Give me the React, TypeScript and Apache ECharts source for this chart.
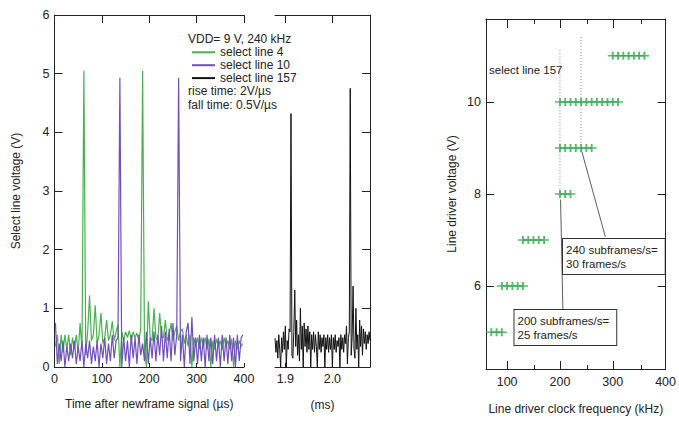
import React, { useEffect, useRef } from "react";
import * as echarts from "echarts";

const FONT = '"Liberation Sans", Arial, sans-serif';
const INK = "#222";

// Left panel: sample times (µs) and voltages of select lines 4 and 10
const timeUs = Array.from({ length: 100 }, (_, k) => 2 + 4 * k);
const line4V = [
  0.35, 0.55, 0.05, 0.55, 0.25, 0.55, 0.3, 0.55, 0.2, 0.5,
  0.3, 0.55, 0.25, 0.75, 0.3, 5.05, 0.2, 0.6, 1.22, 0.45,
  0.55, 1.05, 0.4, 0.55, 0.92, 0.4, 0.5, 0.8, 0.45, 0.55,
  0.78, 0.45, 0.6, 0.72, 0.0, 0.6, 0.45, 0.6, 0.5, 0.62,
  0.45, 0.6, 0.5, 0.58, 0.45, 0.65, 5.05, 0.3, 0.0, 1.12,
  0.5, 0.45, 1.0, 0.5, 0.45, 0.92, 0.5, 0.5, 0.8, 0.45,
  0.55, 0.75, 0.45, 0.6, 0.7, 0.45, 0.6, 0.65, 0.4, 0.55,
  0.35, 0.55, 0.0, 0.5, 0.35, 0.5, 0.3, 0.5, 0.35, 0.5,
  0.3, 0.48, 0.0, 0.45, 0.3, 0.48, 0.35, 0.45, 0.3, 0.5,
  0.35, 0.45, 0.3, 0.48, 0.0, 0.45, 0.3, 0.45, 0.35, 0.4,
];
const line10V = [
  0.75, 0.05, 0.4, 0.1, 0.45, 0.0, 0.35, 0.1, 0.4, 0.15,
  0.45, 0.05, 0.35, 0.1, 0.45, 0.0, 0.4, 0.15, 0.45, 0.05,
  0.35, 0.1, 0.45, 0.0, 0.4, 0.15, 0.5, 0.05, 0.4, 0.1,
  0.55, 0.15, 0.45, 0.5, 4.93, 0.0, 0.5, 0.1, 0.45, 0.0,
  0.55, 0.15, 0.5, 0.05, 0.55, 0.2, 0.4, 0.1, 0.6, 0.05,
  0.5, 0.15, 0.6, 0.1, 0.55, 0.2, 0.7, 0.1, 0.6, 0.15,
  0.65, 0.1, 0.75, 0.2, 0.55, 4.93, 0.1, 0.55, 0.0, 0.6,
  0.75, 0.05, 0.85, 0.1, 0.5, 0.05, 0.55, 0.1, 0.5, 0.0,
  0.55, 0.1, 0.5, 0.05, 0.55, 0.1, 0.5, 0.0, 0.55, 0.1,
  0.5, 0.05, 0.55, 0.1, 0.5, 0.0, 0.55, 0.1, 0.5, 0.55,
];

// Middle panel: time (ms) and voltage of select line 157
const timeMs157 = Array.from({ length: 102 }, (_, i) => +(1.878 + 0.002 * i).toFixed(3));
const line157V = [
  0.49, 0.25, 0.45, 0.15, 0.55, 0.3, 0.0, 0.5, 0.25, 0.6,
  0.3, 0.7, 0.0, 0.45, 0.3, 0.65, 0.6, 4.32, 0.2, 0.15,
  0.6, 1.31, 0.35, 0.8, 0.2, 0.55, 0.1, 1.0, 0.3, 0.7,
  0.0, 0.75, 0.35, 0.65, 0.25, 0.7, 0.3, 0.6, 0.0, 0.55,
  0.3, 0.6, 0.25, 0.55, 0.35, 0.0, 0.6, 0.3, 0.55, 0.25,
  0.5, 0.35, 0.55, 0.0, 0.5, 0.3, 0.55, 0.25, 0.5, 0.3,
  0.55, 0.0, 0.5, 0.3, 0.55, 0.25, 0.45, 0.35, 0.5, 0.0,
  0.55, 0.3, 0.5, 0.25, 0.55, 0.4, 0.7, 0.05, 0.5, 0.6,
  4.75, 0.2, 0.5, 1.38, 0.3, 0.15, 1.0, 0.3, 0.55, 0.0,
  0.8, 0.35, 0.7, 0.2, 0.65, 0.4, 0.6, 0.3, 0.55, 0.4,
  0.6, 0.45,
];

// Right panel: working clock frequencies (kHz) for each line driver voltage (V)
const driverVoltages = [5, 6, 7, 8, 9, 10, 11];
const freqsAt5V = [70, 80, 90];
const freqsAt6V = [90, 100, 110, 120, 130];
const freqsAt7V = [130, 140, 150, 160, 170];
const freqsAt8V = [200, 210, 220];
const freqsAt9V = [200, 210, 220, 230, 240, 250, 260];
const freqsAt10V = [200, 210, 220, 230, 240, 250, 260, 270, 280, 290, 300, 310];
const freqsAt11V = [300, 310, 320, 330, 340, 350, 360];
const freqRows = [freqsAt5V, freqsAt6V, freqsAt7V, freqsAt8V, freqsAt9V, freqsAt10V, freqsAt11V];

// Reference lines: 200 kHz (25 frames/s) and 240 kHz (30 frames/s)
const ref200 = [[200, 11.12], [200, 8.0]];
const ref240 = [[240, 11.41], [240, 9.0]];
const arrow200 = [[205.6, 5.48], [201.2, 7.88]];
const arrow240 = [[286, 7.07], [241.5, 8.92]];

// Tick labels
const leftXTicks = [0, 100, 200, 300, 400];
const midXTicks = [1.9, 2.0];
const rightXMajor = [100, 200, 300];
const rightXLabels = [100, 200, 300, 400];
const rightXMinor = [150, 250, 350];
const rightYTicks = [6, 8, 10];

const axisBase = (o: any = {}) => ({
  type: "value",
  splitLine: { show: false },
  ...o,
  axisLine: { show: true, onZero: false, lineStyle: { color: INK, width: 1 }, ...(o.axisLine || {}) },
  axisTick: { show: true, inside: true, length: 8, lineStyle: { color: INK, width: 1 }, ...(o.axisTick || {}) },
  axisLabel: { show: true, fontSize: 12.5, color: INK, fontFamily: FONT, ...(o.axisLabel || {}) },
  nameTextStyle: { fontSize: 12, color: INK, fontFamily: FONT },
});

export default function App() {
  const ref = useRef<HTMLDivElement>(null);
  useEffect(() => {
    document.body.style.margin = "0";
    const chart = echarts.init(ref.current!, null, { renderer: "svg" });
    const scatterData: number[][] = [];
    freqRows.forEach((row, i) => row.forEach((f) => scatterData.push([f, driverVoltages[i]])));

    const txt = (x: number, y: number, text: string, size = 12) => ({
      type: "text",
      x,
      y,
      silent: true,
      style: { text, fill: INK, fontSize: size, fontFamily: FONT, verticalAlign: "middle" },
    });
    const box = (x: number, y: number, text: string) => ({
      type: "text",
      x,
      y,
      silent: true,
      style: {
        text,
        fill: INK,
        fontSize: 11.5,
        fontFamily: FONT,
        lineHeight: 14,
        padding: [4, 7, 3, 3],
        borderColor: "#333",
        borderWidth: 1,
        backgroundColor: "#fff",
      },
    });

    const option: any = {
      animation: false,
      textStyle: { fontFamily: FONT, color: INK },
      grid: [
        { left: 54.5, top: 15, width: 189.5, height: 352 },
        { left: 275, top: 15, width: 95, height: 352 },
        { left: 486, top: 19, width: 182, height: 350 },
        { left: 486, top: 19, width: 182, height: 350 },
      ],
      legend: {
        orient: "vertical",
        left: 186,
        top: 41.3,
        itemWidth: 23,
        itemHeight: 12,
        itemGap: 0.9,
        itemStyle: { opacity: 0 },
        textStyle: { fontSize: 12, color: INK, fontFamily: FONT, lineHeight: 12 },
        data: ["select line 4", "select line 10", "select line 157"],
        selectedMode: false,
      },
      xAxis: [
        axisBase({
          gridIndex: 0, position: "bottom", min: 0, max: 400, interval: 100,
          axisTick: { length: 4 },
          axisLabel: { customValues: leftXTicks, margin: 5 },
          name: "Time after newframe signal (µs)", nameLocation: "middle", nameGap: 31,
        }),
        axisBase({
          gridIndex: 0, position: "top", min: 0, max: 400, interval: 100,
          axisLabel: { show: false },
        }),
        axisBase({
          gridIndex: 1, position: "bottom", min: 1.878, max: 2.08,
          axisTick: { length: 4, customValues: midXTicks },
          axisLabel: { customValues: midXTicks, margin: 5, formatter: (v: number) => v.toFixed(1) },
          name: "(ms)", nameLocation: "middle", nameGap: 32,
        }),
        axisBase({
          gridIndex: 1, position: "top", min: 1.878, max: 2.08,
          axisTick: { customValues: midXTicks },
          axisLabel: { show: false },
        }),
        axisBase({
          gridIndex: 2, position: "bottom", min: 60, max: 400,
          axisTick: { customValues: rightXMajor },
          axisLabel: { customValues: rightXLabels, margin: 6 },
          name: "Line driver clock frequency (kHz)", nameLocation: "middle", nameGap: 34,
        }),
        axisBase({
          gridIndex: 2, position: "top", min: 60, max: 400,
          axisTick: { customValues: rightXMajor, length: 9 },
          axisLabel: { show: false },
        }),
        axisBase({
          gridIndex: 3, position: "bottom", min: 60, max: 400,
          axisLine: { show: false },
          axisTick: { customValues: rightXMinor, length: 4 },
          axisLabel: { show: false },
        }),
        axisBase({
          gridIndex: 3, position: "top", min: 60, max: 400,
          axisLine: { show: false },
          axisTick: { customValues: rightXMinor, length: 5 },
          axisLabel: { show: false },
        }),
      ],
      yAxis: [
        axisBase({
          gridIndex: 0, position: "left", min: 0, max: 6, interval: 1,
          axisLabel: { margin: 5 },
          name: "Select line voltage (V)", nameLocation: "middle", nameGap: 33,
        }),
        axisBase({
          gridIndex: 1, position: "right", min: 0, max: 6, interval: 1,
          axisLabel: { show: false },
        }),
        axisBase({
          gridIndex: 2, position: "left", min: 4.2, max: 11.8,
          axisTick: { customValues: rightYTicks },
          axisLabel: { customValues: rightYTicks, margin: 5 },
          name: "Line driver voltage (V)", nameLocation: "middle", nameGap: 28,
        }),
        axisBase({
          gridIndex: 2, position: "right", min: 4.2, max: 11.8,
          axisTick: { customValues: rightYTicks },
          axisLabel: { show: false },
        }),
        { type: "value", gridIndex: 3, min: 4.2, max: 11.8, show: false },
      ],
      series: [
        {
          name: "select line 4", type: "line", xAxisIndex: 0, yAxisIndex: 0,
          data: timeUs.map((t, i) => [t, line4V[i]]),
          symbol: "none", color: "#47b34d", lineStyle: { color: "#47b34d", width: 1.2 },
        },
        {
          name: "select line 10", type: "line", xAxisIndex: 0, yAxisIndex: 0,
          data: timeUs.map((t, i) => [t, line10V[i]]),
          symbol: "none", color: "#7050b8", lineStyle: { color: "#7050b8", width: 1.2 },
        },
        {
          name: "select line 157", type: "line", xAxisIndex: 2, yAxisIndex: 1,
          data: timeMs157.map((t, i) => [t, line157V[i]]),
          symbol: "none", color: "#111", lineStyle: { color: "#111", width: 1 },
        },
        {
          name: "operating points", type: "scatter", xAxisIndex: 4, yAxisIndex: 2,
          data: scatterData,
          symbol: "path://M4,0L4,8M0,4L8,4",
          symbolSize: [10, 8],
          itemStyle: { color: "rgba(0,0,0,0)", borderColor: "#2ea64a", borderWidth: 1.7 },
          silent: true,
        },
        {
          name: "ref200", type: "line", xAxisIndex: 4, yAxisIndex: 2, data: ref200,
          symbol: "none", silent: true,
          lineStyle: { color: "#888", width: 1, type: [1, 2] },
          markLine: {
            silent: true,
            symbol: ["none", "arrow"],
            symbolSize: [0, 7],
            label: { show: false },
            lineStyle: { color: "#333", width: 0.8, type: "solid" },
            data: [
              [{ coord: arrow200[0] }, { coord: arrow200[1] }],
              [{ coord: arrow240[0] }, { coord: arrow240[1] }],
            ],
          },
        },
        {
          name: "ref240", type: "line", xAxisIndex: 4, yAxisIndex: 2, data: ref240,
          symbol: "none", silent: true,
          lineStyle: { color: "#888", width: 1, type: [1, 2] },
        },
      ],
      graphic: [
        txt(188, 39, "VDD= 9 V, 240 kHz"),
        txt(188, 91.3, "rise time: 2V/µs"),
        txt(188, 105.3, "fall time: 0.5V/µs"),
        txt(489, 70, "select line 157", 11.5),
        box(563, 239, "240 subframes/s=\n30 frames/s"),
        box(514.5, 310, "200 subframes/s=\n25 frames/s"),
      ],
    };
    chart.setOption(option);
    return () => chart.dispose();
  }, []);
  return <div ref={ref} style={{ width: 679, height: 421 }} />;
}
